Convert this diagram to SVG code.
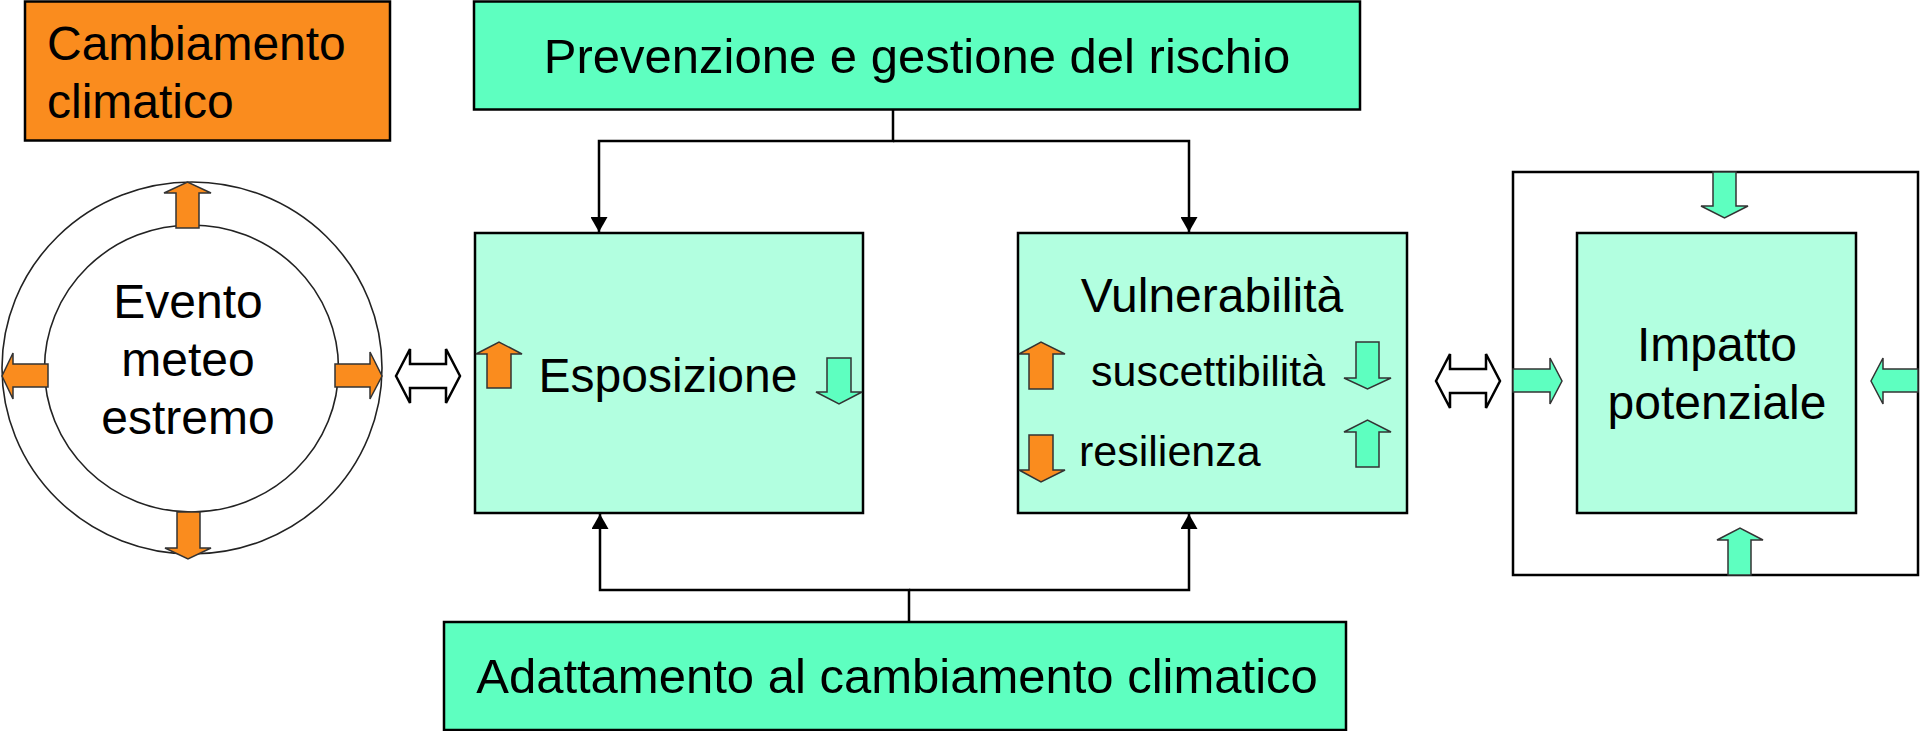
<svg xmlns="http://www.w3.org/2000/svg" width="1920" height="731" viewBox="0 0 1920 731">
<style>
text{font-family:"Liberation Sans",Arial,sans-serif;fill:#000}
.t48{font-size:48px}
.t49{font-size:49px}
.t43{font-size:43px}
.mid{text-anchor:middle}
.box{stroke:#000;stroke-width:2.5}
.or{fill:#FA8C1E}
.gr{fill:#5EFFC0}
.lt{fill:#B2FFE0}
.arr{stroke:#333;stroke-width:1.5;stroke-linejoin:miter}
.dbl{fill:#fff;stroke:#000;stroke-width:2.5;stroke-linejoin:miter}
.ring{fill:#fff;stroke:#222;stroke-width:1.6}
.conn{fill:none;stroke:#000;stroke-width:2.5}
</style>
<defs>
<marker id="ah" viewBox="0 0 15 17" refX="15" refY="8.5" markerWidth="15" markerHeight="17" markerUnits="userSpaceOnUse" orient="auto">
<path d="M0,0 L15,8.5 L0,17 Z" fill="#000"/>
</marker>
</defs>
<rect width="1920" height="731" fill="#fff"/>

<g id="cambiamento">
<rect class="box or" x="25" y="1.5" width="365" height="139"/>
<text class="t48" x="47" y="60">Cambiamento</text>
<text class="t48" x="47" y="118">climatico</text>
</g>

<g id="evento">
<ellipse class="ring" cx="192" cy="368" rx="190" ry="186"/>
<ellipse class="ring" cx="191.5" cy="368.5" rx="147" ry="143.5"/>
<path class="arr or" d="M176,228 L176,193 L164,193 L187.5,182 L211,193 L199,193 L199,228 Z"/>
<path class="arr or" d="M177,512 L200,512 L200,548 L211,548 L188,559 L165,548 L177,548 Z"/>
<path class="arr or" d="M48,364 L13,364 L13,353 L2,376 L13,399 L13,387 L48,387 Z"/>
<path class="arr or" d="M335,364 L370,364 L370,352 L382,376 L370,399 L370,387 L335,387 Z"/>
<text class="t48 mid" x="188" y="318">Evento</text>
<text class="t48 mid" x="188" y="376">meteo</text>
<text class="t48 mid" x="188" y="434">estremo</text>
</g>

<g id="prevenzione">
<rect class="box gr" x="474" y="1.5" width="886" height="108"/>
<text class="t49 mid" x="917" y="73">Prevenzione e gestione del rischio</text>
</g>

<g id="esposizione">
<rect class="box lt" x="475" y="233" width="388" height="280"/>
<path class="arr or" d="M487,388 L487,354 L476,354 L499,342 L522,354 L511,354 L511,388 Z"/>
<path class="arr gr" d="M827,358 L851,358 L851,392 L862,392 L839,404 L816,392 L827,392 Z"/>
<text class="t48 mid" x="668" y="392">Esposizione</text>
</g>

<g id="vulnerabilita">
<rect class="box lt" x="1018" y="233" width="389" height="280"/>
<path class="arr or" d="M1029,389 L1029,354 L1019,354 L1041,342 L1065,354 L1053,354 L1053,389 Z"/>
<path class="arr or" d="M1029,435 L1053,435 L1053,470 L1065,470 L1041,482 L1019,470 L1029,470 Z"/>
<path class="arr gr" d="M1356,342 L1379,342 L1379,378 L1391,378 L1367.5,389 L1344,378 L1356,378 Z"/>
<path class="arr gr" d="M1356,467 L1356,432 L1344,432 L1367.5,420 L1391,432 L1379,432 L1379,467 Z"/>
<text class="t48 mid" x="1212" y="312">Vulnerabilità</text>
<text class="t43" x="1091" y="386">suscettibilità</text>
<text class="t43" x="1079" y="466">resilienza</text>
</g>

<g id="impatto">
<rect x="1513" y="172" width="405" height="403" fill="#fff" stroke="#000" stroke-width="2.5"/>
<rect class="box lt" x="1577" y="233" width="279" height="280"/>
<path class="arr gr" d="M1713,172 L1736,172 L1736,206 L1748,206 L1724.5,218 L1701,206 L1713,206 Z"/>
<path class="arr gr" d="M1728,575 L1728,540 L1717,540 L1740,528 L1763,540 L1751,540 L1751,575 Z"/>
<path class="arr gr" d="M1513,369 L1550,369 L1550,358 L1562,381 L1550,404 L1550,392 L1513,392 Z"/>
<path class="arr gr" d="M1918,369 L1883,369 L1883,358 L1871,381 L1883,404 L1883,392 L1918,392 Z"/>
<text class="t48 mid" x="1717" y="361">Impatto</text>
<text class="t48 mid" x="1717" y="419">potenziale</text>
</g>

<g id="adattamento">
<rect class="box gr" x="444" y="622" width="902" height="108"/>
<text class="t49 mid" x="897" y="693">Adattamento al cambiamento climatico</text>
</g>

<g id="connectors">
<path class="conn" d="M893,109 V141 H599 V232" marker-end="url(#ah)"/>
<path class="conn" d="M893,141 H1189 V232" marker-end="url(#ah)"/>
<path class="conn" d="M909,622 V590 H600 V514" marker-end="url(#ah)"/>
<path class="conn" d="M909,590 H1189 V514" marker-end="url(#ah)"/>
<path class="dbl" d="M396,376 L410,349 L410,364 L446,364 L446,349 L460,376 L446,403 L446,388 L410,388 L410,403 Z"/>
<path class="dbl" d="M1436,381 L1450,354 L1450,369 L1486,369 L1486,354 L1500,381 L1486,408 L1486,393 L1450,393 L1450,408 Z"/>
</g>
</svg>
